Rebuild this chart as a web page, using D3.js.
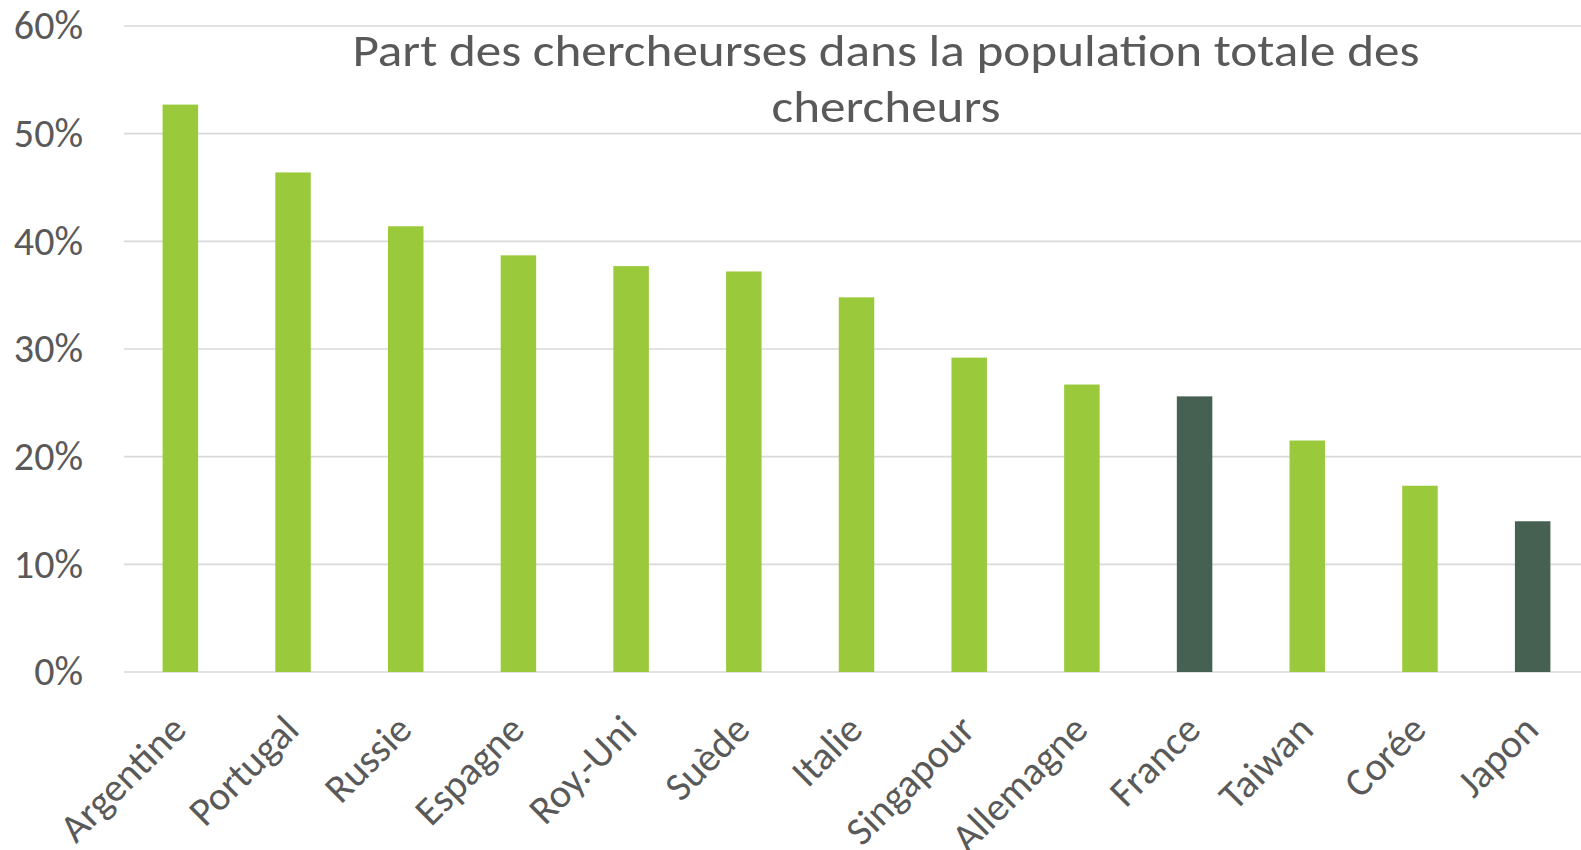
<!DOCTYPE html>
<html>
<head>
<meta charset="utf-8">
<script src="https://cdn.jsdelivr.net/npm/d3@7"></script>
<style>
  body { margin: 0; background: #fff; }
  svg { display: block; font-family: Carlito, "Open Sans", sans-serif; }
</style>
</head>
<body>
<svg id="bar"></svg>
<script>
// data
const countries = ["Argentine", "Portugal", "Russie", "Espagne", "Roy.-Uni", "Suède",
  "Italie", "Singapour", "Allemagne", "France", "Taiwan", "Corée", "Japon"];
const shares = [0.527, 0.464, 0.414, 0.387, 0.377, 0.372,
  0.348, 0.292, 0.267, 0.256, 0.215, 0.173, 0.140];
const highlighted = ["France", "Japon"];
const yTicks = [0, 0.1, 0.2, 0.3, 0.4, 0.5, 0.6];
const titleLines = ["Part des chercheurses dans la population totale des", "chercheurs"];

const W = 1581, H = 850;
const margin = { top: 26, right: -8, bottom: 178, left: 124 };
const innerW = W - margin.left - margin.right;
const innerH = H - margin.top - margin.bottom;

const svg = d3.select("#bar")
  .attr("width", W).attr("height", H)
  .attr("viewBox", [0, 0, W, H]);

const rows = countries.map((c, i) => ({ country: c, value: shares[i] }));

const x = d3.scaleBand()
  .domain(countries)
  .range([0, innerW])
  .paddingInner(0.685)
  .paddingOuter(0.3425);
const y = d3.scaleLinear()
  .domain([0, 0.6])
  .range([innerH, 0]);

const g = svg.append("g")
  .attr("transform", `translate(${margin.left},${margin.top})`);

// Gridlines
g.append("g")
  .selectAll("line")
  .data(yTicks)
  .join("line")
  .attr("x1", 0).attr("x2", innerW)
  .attr("y1", d => y(d)).attr("y2", d => y(d))
  .attr("stroke", "#d9d9d9")
  .attr("stroke-width", 1.6);

// Y axis labels
const yAxis = g.append("g")
  .call(d3.axisLeft(y).tickValues(yTicks).tickSize(0).tickPadding(41)
    .tickFormat(d3.format(".0%")));
yAxis.select(".domain").remove();
yAxis.selectAll("text")
  .attr("dy", "0.32em")
  .attr("fill", "#595959")
  .style("font-family", "Carlito, 'Open Sans', sans-serif")
  .style("font-size", "40px");

// Bars
g.selectAll("rect")
  .data(rows)
  .join("rect")
  .attr("x", d => x(d.country))
  .attr("width", x.bandwidth())
  .attr("y", d => y(d.value))
  .attr("height", d => innerH - y(d.value))
  .attr("fill", d => highlighted.includes(d.country) ? "#466052" : "#9aca3c");

// X labels, rotated
g.append("g")
  .selectAll("text")
  .data(countries)
  .join("text")
  .attr("transform", d => `translate(${x(d) + x.bandwidth() / 2 + 8},${innerH + 60}) rotate(-45)`)
  .attr("text-anchor", "end")
  .attr("fill", "#595959")
  .style("font-size", "40px")
  .text(d => d);

// Title
const titleWidths = [1067, 229];
svg.append("g")
  .selectAll("text")
  .data(titleLines)
  .join("text")
  .attr("x", 886)
  .attr("y", (d, i) => 66 + i * 56)
  .attr("text-anchor", "middle")
  .attr("fill", "#595959")
  .attr("textLength", (d, i) => titleWidths[i])
  .attr("lengthAdjust", "spacingAndGlyphs")
  .style("font-size", "46px")
  .text(d => d);
</script>
</body>
</html>
